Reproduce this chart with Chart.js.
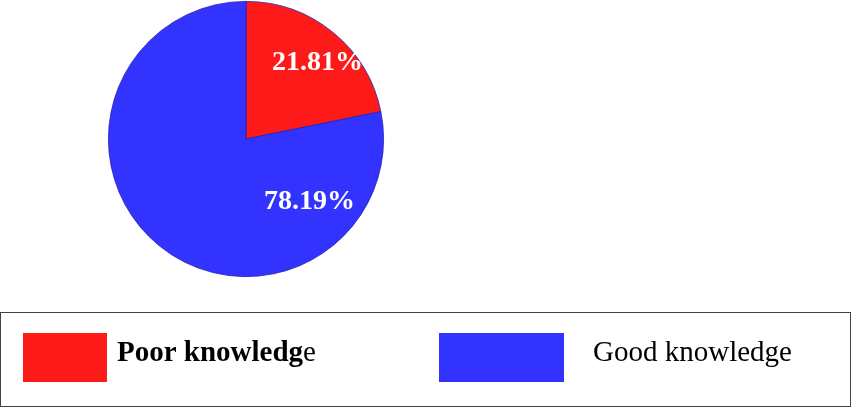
<!DOCTYPE html>
<html>
<head>
<meta charset="utf-8">
<script src="https://cdn.jsdelivr.net/npm/chart.js@4/dist/chart.umd.min.js"></script>
<style>
  html, body { margin: 0; padding: 0; background: #fff; }
  #wrap { width: 854px; height: 408px; position: relative; }
</style>
</head>
<body>
<div id="wrap"><canvas id="chart"></canvas></div>
<script>
// data
const categories = ['Poor knowledge', 'Good knowledge'];
const percentValues = [21.81, 78.19];
const sliceColors = ['#ff1a1a', '#3333ff'];

// where each % label sits: fraction along the slice angle, fraction of radius
const labelSpots = [
    { along: 0.55, dist: 0.76 },
    { along: 0.20, dist: 0.65 }
];

const serif = '"Liberation Serif", "Times New Roman", serif';

// white bold percentages on the slices
const sliceLabels = {
    id: 'sliceLabels',
    afterDatasetsDraw(chart) {
        const ctx = chart.ctx;
        const arcs = chart.getDatasetMeta(0).data;
        ctx.save();
        ctx.fillStyle = '#ffffff';
        ctx.font = 'bold 28px ' + serif;
        ctx.textAlign = 'center';
        ctx.textBaseline = 'middle';
        arcs.forEach((arc, i) => {
            const p = arc.getProps(['x', 'y', 'startAngle', 'endAngle', 'outerRadius'], true);
            const spot = labelSpots[i];
            const a = p.startAngle + (p.endAngle - p.startAngle) * spot.along;
            const r = p.outerRadius * spot.dist;
            const text = percentValues[i].toFixed(2) + '%';
            ctx.fillText(text, p.x + Math.cos(a) * r, p.y + Math.sin(a) * r);
        });
        ctx.restore();
    }
};

// boxed legend under the pie
const boxLegend = {
    id: 'boxLegend',
    afterDraw(chart) {
        const ctx = chart.ctx;
        ctx.save();
        ctx.strokeStyle = '#444';
        ctx.lineWidth = 1;
        ctx.strokeRect(0.5, 312.5, 850, 94);

        const swatches = [
            { x: 23, w: 84, tx: 117, weight: 'bold' },
            { x: 439, w: 125, tx: 593, weight: 'normal' }
        ];
        ctx.textBaseline = 'alphabetic';
        ctx.textAlign = 'left';
        categories.forEach((name, i) => {
            const s = swatches[i];
            ctx.fillStyle = sliceColors[i];
            ctx.fillRect(s.x, 333, s.w, 49);
            ctx.fillStyle = '#000';
            if (s.weight === 'bold') {
                // last letter is set in regular weight in the original
                ctx.font = 'bold 29px ' + serif;
                const head = name.slice(0, -1);
                ctx.fillText(head, s.tx, 361);
                const w = ctx.measureText(head).width;
                ctx.font = '29px ' + serif;
                ctx.fillText(name.slice(-1), s.tx + w, 361);
            } else {
                ctx.font = '29px ' + serif;
                ctx.fillText(name, s.tx, 361);
            }
        });
        ctx.restore();
    }
};

new Chart(document.getElementById('chart'), {
    type: 'pie',
    data: {
        labels: categories,
        datasets: [{
            data: percentValues,
            backgroundColor: sliceColors,
            borderColor: '#2a1fb0',
            borderWidth: 0.8
        }]
    },
    options: {
        responsive: true,
        maintainAspectRatio: false,
        animation: false,
        layout: {
            padding: { left: 107, right: 469, top: 1, bottom: 131 }
        },
        plugins: {
            legend: { display: false },
            tooltip: { enabled: false }
        }
    },
    plugins: [sliceLabels, boxLegend]
});
</script>
</body>
</html>
